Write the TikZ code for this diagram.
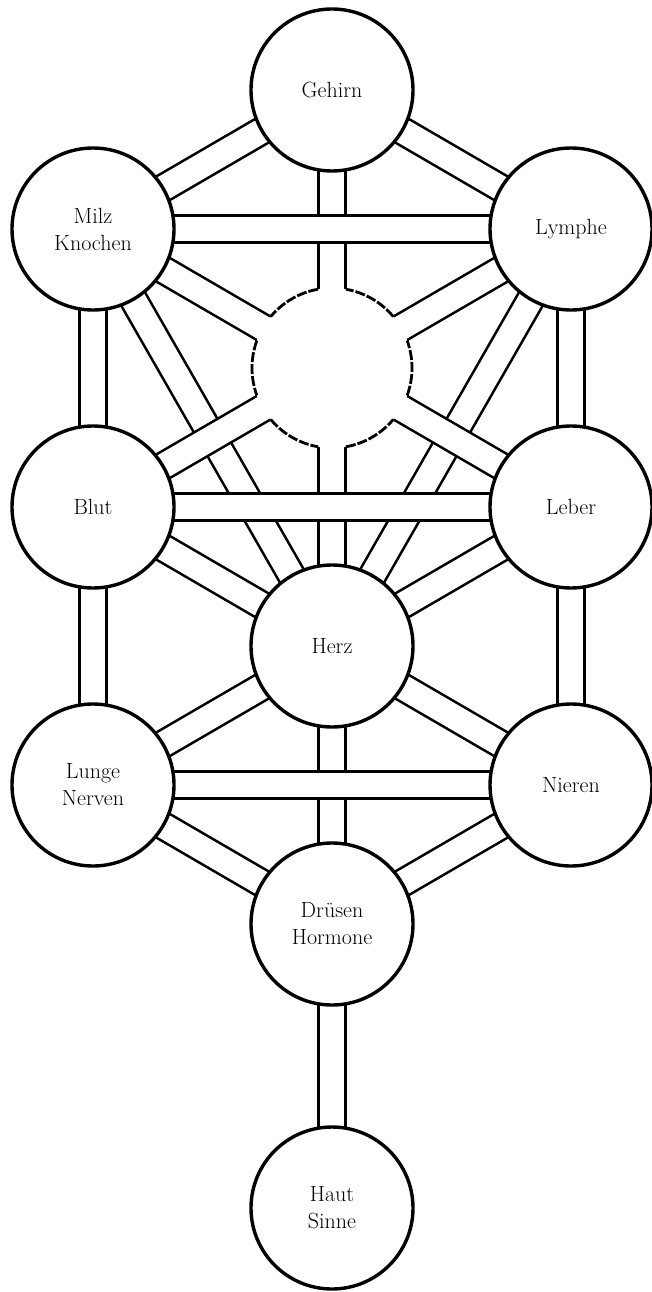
\documentclass[tikz,border=0pt]{standalone}
\pgfdeclarelayer{bg}
\pgfsetlayers{bg,main}
\tikzset{
  chan/.style={line width=2.6pt, double=white, double distance=24.5pt, line cap=butt},
  seph/.style={circle, draw=black, line width=3.4pt, fill=white, minimum size=162pt,
    inner sep=0pt, outer sep=0pt, align=center, font=\fontsize{22}{27}\selectfont},
  daathst/.style={circle, draw=none, fill=white, minimum size=160pt, inner sep=0pt, outer sep=0pt},
  daatharc/.style={line width=2.8pt, dash pattern=on 10pt off 2pt, line cap=butt}
}
\begin{document}
\begin{tikzpicture}[x=1pt,y=1pt]
\useasboundingbox (0,0) rectangle (652,-1292);
% sephiroth
\node[seph] (gehirn) at (332,-90) {Gehirn};
\node[seph] (milz) at (93,-229) {Milz\\Knochen};
\node[seph] (lymphe) at (571,-229) {Lymphe};
\node[daathst] (daath) at (332,-368) {};
\node[seph] (blut) at (93,-507) {Blut};
\node[seph] (leber) at (571,-507) {Leber};
\node[seph] (herz) at (332,-646) {Herz};
\node[seph] (lunge) at (93,-785) {Lunge\\Nerven};
\node[seph] (nieren) at (571,-785) {Nieren};
\node[seph] (druesen) at (332,-924) {Drüsen\\Hormone};
\node[seph] (haut) at (332,-1208) {Haut\\Sinne};
% open circle in the middle
\foreach \a in {40,100,160,220,280,340}
  \draw[daatharc] (daath.\a) arc[start angle=\a, end angle=\a+40, radius=80pt];
% channels
\begin{pgfonlayer}{bg}
\draw[chan] (milz.center) -- (blut.center);
\draw[chan] (blut.center) -- (lunge.center);
\draw[chan] (lymphe.center) -- (leber.center);
\draw[chan] (leber.center) -- (nieren.center);
\draw[chan] (gehirn.center) -- (milz.center);
\draw[chan] (gehirn.center) -- (lymphe.center);
\draw[chan] (blut.center) -- (herz.center);
\draw[chan] (leber.center) -- (herz.center);
\draw[chan] (lunge.center) -- (herz.center);
\draw[chan] (nieren.center) -- (herz.center);
\draw[chan] (lunge.center) -- (druesen.center);
\draw[chan] (nieren.center) -- (druesen.center);
\draw[chan] (druesen.center) -- (haut.center);
\draw[chan] (gehirn.center) -- (herz.center);
\draw[chan] (herz.center) -- (druesen.center);
\draw[chan] (milz.center) -- (herz.center);
\draw[chan] (lymphe.center) -- (herz.center);
\draw[chan] (milz.center) -- (leber.center);
\draw[chan] (lymphe.center) -- (blut.center);
\draw[chan] (milz.center) -- (lymphe.center);
\draw[chan] (blut.center) -- (leber.center);
\draw[chan] (lunge.center) -- (nieren.center);
\end{pgfonlayer}
\end{tikzpicture}
\end{document}
